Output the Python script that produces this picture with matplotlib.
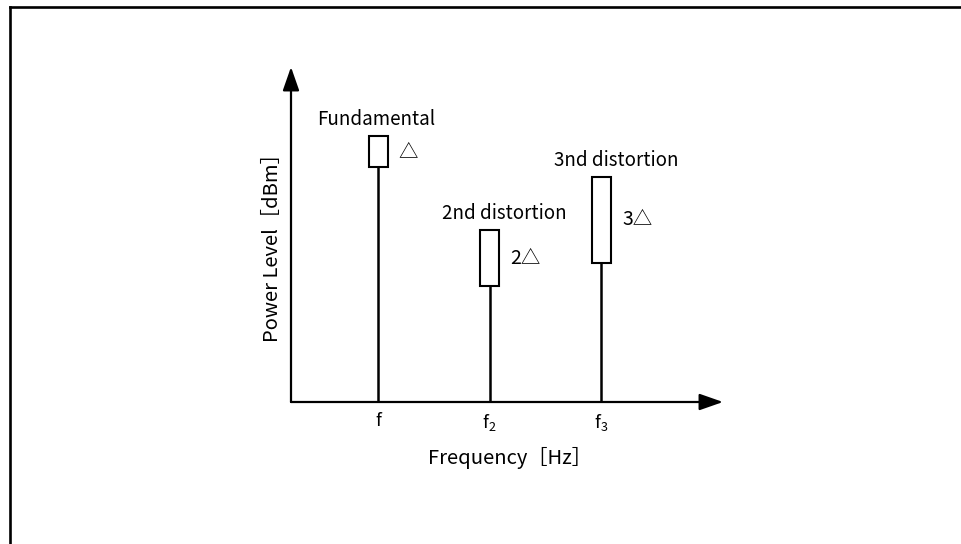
import matplotlib
matplotlib.use('Agg')
import matplotlib.pyplot as plt
from matplotlib.patches import Rectangle
from matplotlib.lines import Line2D

plt.rcParams['font.family'] = ['Noto Sans CJK JP', 'DejaVu Sans']
plt.rcParams['mathtext.fontset'] = 'custom'
plt.rcParams['mathtext.rm'] = 'Noto Sans CJK JP'
plt.rcParams['mathtext.it'] = 'Noto Sans CJK JP'

# componentes do espectro (posicao em frequencia e faixa de nivel)
freq_pos = [1, 2, 3]
freq_labels = ['f', r'f$_\mathrm{2}$', r'f$_\mathrm{3}$']
level_low = [70.1, 34.6, 41.5]
level_high = [79.4, 51.3, 67.2]
names = ['Fundamental', '2nd distortion', '3nd distortion']
deltas = ['△', '2△', '3△']

fig = plt.figure(figsize=(9.62, 5.44), dpi=100)
W, H = 962.0, 544.0
ax = fig.add_axes([291 / W, (H - 402) / H, (723 - 291) / W, (402 - 67) / H])
ax.set_xlim(0.22, 4.09)
ax.set_ylim(0, 100)
for s in ax.spines.values():
    s.set_visible(False)
ax.set_yticks([])
ax.set_xticks(freq_pos)
ax.set_xticklabels(freq_labels, fontsize=13)
ax.tick_params(axis='x', length=0, pad=7)
ax.patch.set_alpha(0)

# eixos com setas
arw = dict(arrowstyle='-|>,head_length=1.2,head_width=0.42', color='k', lw=1.6,
           shrinkA=0, shrinkB=0, mutation_scale=12)
ax.annotate('', xy=(1, 0), xytext=(0, 0), xycoords='axes fraction', arrowprops=arw)
ax.annotate('', xy=(0, 1), xytext=(0, 0), xycoords='axes fraction', arrowprops=arw)

bw = 0.17
name_dx = [-0.02, 0.13, 0.13]
for x, lo, hi, nm, dl, dx in zip(freq_pos, level_low, level_high, names, deltas, name_dx):
    ax.plot([x, x], [0, lo], color='k', lw=1.8, solid_capstyle='butt')
    ax.add_patch(Rectangle((x - bw / 2, lo), bw, hi - lo, fill=False, ec='k', lw=1.5))
    ax.text(x + dx, hi + 3.2, nm, ha='center', va='baseline', fontsize=13.5)
    ax.text(x + bw / 2 + 0.10, (lo + hi) / 2, dl, ha='left', va='center', fontsize=14)

fig.text(510 / W, 1 - 458 / H, 'Frequency［Hz］', ha='center', va='center', fontsize=14.5)
fig.text(272 / W, 1 - 243 / H, 'Power Level［dBm］', ha='center', va='center',
         rotation=90, fontsize=14.5)

# moldura (so topo e esquerda visiveis)
fig.add_artist(Line2D([10 / W, 1.0], [1 - 6.5 / H, 1 - 6.5 / H], color='k', lw=1.9,
                      transform=fig.transFigure))
fig.add_artist(Line2D([10 / W, 10 / W], [0.0, 1 - 6.5 / H], color='k', lw=1.9,
                      transform=fig.transFigure))

plt.savefig('out.png', dpi=100)
